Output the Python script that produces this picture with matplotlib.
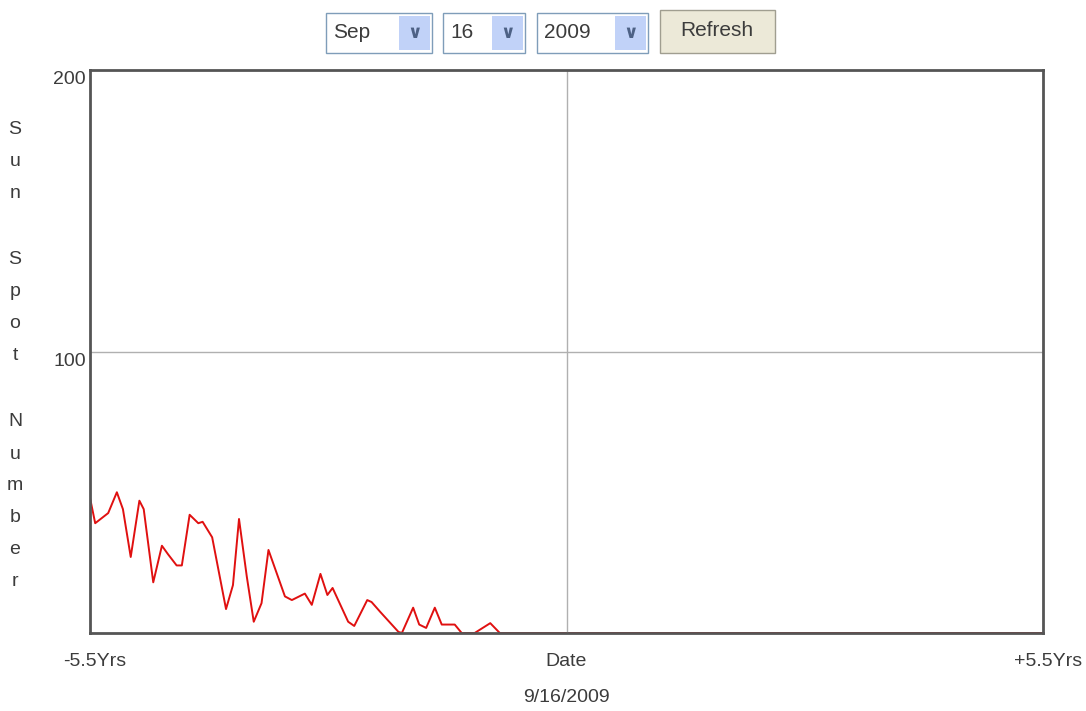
import matplotlib
matplotlib.use("Agg")
import matplotlib.pyplot as plt
from matplotlib.patches import Rectangle

# sunspot number, x in years relative to 9/16/2009
years = [-5.50, -5.44, -5.29, -5.19, -5.12, -5.03, -4.93, -4.88, -4.77, -4.67,
         -4.60, -4.50, -4.44, -4.35, -4.25, -4.20, -4.09, -3.93, -3.85, -3.78,
         -3.69, -3.61, -3.52, -3.44, -3.25, -3.17, -3.02, -2.94, -2.84, -2.76,
         -2.70, -2.52, -2.45, -2.30, -2.25, -2.15, -1.94, -1.90, -1.77, -1.70,
         -1.62, -1.52, -1.44, -1.29, -1.21, -1.06, -0.88, -0.77, 5.50]
sunspots = [48, 39, 42.6, 50, 44, 27, 47, 44, 18, 31,
            28, 24, 24, 42, 39, 39.5, 34, 8.5, 17, 40.5,
            20, 4, 10.6, 29.5, 13, 11.7, 14, 10, 21, 13.5,
            16, 4, 2.5, 11.7, 11, 7.5, 0.4, 0, 9, 3,
            1.8, 9, 3, 3, 0, 0, 3.5, 0, 0]

x_labels = ["-5.5Yrs", "Date", "+5.5Yrs"]
y_labels = ["100", "200"]
ylabel = "Sun Spot Number"
date_str = "9/16/2009"
controls = ["Sep", "16", "2009"]

W, H = 1086, 711
fig = plt.figure(figsize=(W / 100, H / 100), dpi=100)
plt.rcParams["font.family"] = ["Liberation Sans", "DejaVu Sans"]
txt = "#3c3c3c"

def fx(px):
    return px / W

def fy(py):
    return 1 - py / H

ax = fig.add_axes([fx(90), fy(633), fx(1043) - fx(90), fy(70) - fy(633)])
ax.plot(years, sunspots, color="#e01010", lw=1.4)
ax.set_xlim(-5.5, 5.5)
ax.set_ylim(0, 200)
ax.axvline(0, color="#b0b0b0", lw=1)
ax.axhline(100, color="#b0b0b0", lw=1)
ax.set_xticks([])
ax.set_yticks([])
for s in ax.spines.values():
    s.set_color("#555555")
    s.set_linewidth(2)

# tick labels
fig.text(fx(86), fy(80), y_labels[1], ha="right", va="center", fontsize=14, color=txt)
fig.text(fx(86), fy(362), y_labels[0], ha="right", va="center", fontsize=14, color=txt)
fig.text(fx(95), fy(661), x_labels[0], ha="center", va="center", fontsize=14, color=txt)
fig.text(fx(566), fy(661), x_labels[1], ha="center", va="center", fontsize=14, color=txt)
fig.text(fx(1048), fy(661), x_labels[2], ha="center", va="center", fontsize=14, color=txt)
fig.text(fx(566), fy(697), date_str, ha="center", va="center", fontsize=14, color=txt)

# vertical y label, one letter per line
ypos = 130
for ch in ylabel:
    if ch == " ":
        ypos += 34
        continue
    fig.text(fx(15), fy(ypos), ch, ha="center", va="center", fontsize=14, color=txt)
    ypos += 32

# top controls
boxes = [(326, 432), (443, 525), (537, 648)]
for (x0, x1), label in zip(boxes, controls):
    fig.patches.append(Rectangle((fx(x0), fy(53)), fx(x1 - x0), (53 - 13) / H,
                                 transform=fig.transFigure, facecolor="white",
                                 edgecolor="#7f9db9", lw=1))
    fig.patches.append(Rectangle((fx(x1 - 33), fy(50)), fx(31), (50 - 16) / H,
                                 transform=fig.transFigure, facecolor="#c1d2f8",
                                 edgecolor="none"))
    fig.text(fx(x1 - 17.5), fy(33), "\u2228", ha="center", va="center",
             fontsize=13, color="#4d6185", fontweight="bold", family="DejaVu Sans")
    fig.text(fx(x0 + 7), fy(33), label, ha="left", va="center", fontsize=15, color=txt)

fig.patches.append(Rectangle((fx(660), fy(53)), fx(115), (53 - 10) / H,
                             transform=fig.transFigure, facecolor="#ece9d8",
                             edgecolor="#a09e90", lw=1))
fig.text(fx(717), fy(31), "Refresh", ha="center", va="center", fontsize=15, color=txt)

fig.savefig("out.png", dpi=100)
